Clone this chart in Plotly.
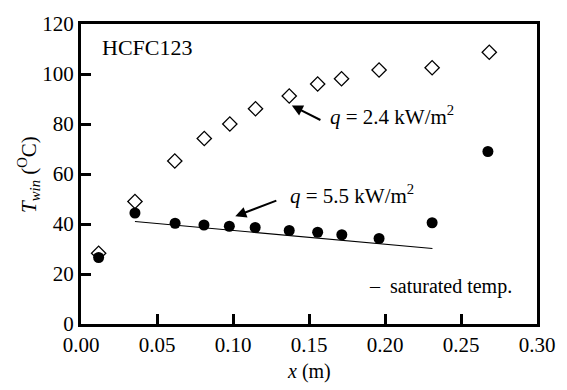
import plotly.graph_objects as go

# Data
x_pos = [0.0116, 0.0355, 0.0617, 0.0811, 0.0979, 0.1148, 0.1370, 0.1557, 0.1714, 0.1961, 0.2310, 0.2686]
t_q24 = [28.3, 49.0, 65.2, 74.2, 80.0, 86.1, 91.2, 96.0, 98.1, 101.6, 102.5, 108.7]
x_pos55 = [0.0116, 0.0355, 0.0619, 0.0809, 0.0976, 0.1146, 0.1370, 0.1557, 0.1716, 0.1961, 0.2310, 0.2677]
t_q55 = [26.6, 44.4, 40.3, 39.6, 39.1, 38.6, 37.4, 36.7, 35.7, 34.2, 40.5, 69.0]
sat_x = [0.0355, 0.2312]
sat_y = [41.0, 30.2]

FONT = "Tinos, Liberation Serif, serif"

fig = go.Figure()
fig.add_trace(go.Scatter(x=sat_x, y=sat_y, mode="lines",
                         line=dict(color="black", width=1.2), showlegend=False))
fig.add_trace(go.Scatter(x=x_pos, y=t_q24, mode="markers",
                         marker=dict(symbol="diamond-open", size=11, color="black",
                                     line=dict(width=1.3, color="black")),
                         showlegend=False))
fig.add_trace(go.Scatter(x=x_pos55, y=t_q55, mode="markers",
                         marker=dict(symbol="circle", size=11, color="black"),
                         showlegend=False))

annotations = [
    dict(x=0.0123, y=110.7, xref="x", yref="y", text="HCFC123", showarrow=False,
         xanchor="left", yanchor="middle", font=dict(family=FONT, size=22, color="black")),
    dict(x=0.1626, y=83.6, xref="x", yref="y", text="<i>q</i> = 2.4 kW/m<sup>2</sup>",
         showarrow=False, xanchor="left", yanchor="middle", font=dict(family=FONT, size=21, color="black")),
    dict(x=0.136, y=51.9, xref="x", yref="y", text="<i>q</i> = 5.5 kW/m<sup>2</sup>",
         showarrow=False, xanchor="left", yanchor="middle", font=dict(family=FONT, size=21, color="black")),
    dict(x=0.188, y=15.0, xref="x", yref="y", text="&#8211;  saturated temp.",
         showarrow=False, xanchor="left", yanchor="middle", font=dict(family=FONT, size=20, color="black")),
    # arrows
    dict(x=0.1387, y=87.4, ax=0.1585, ay=81.3, xref="x", yref="y", axref="x", ayref="y",
         text="", showarrow=True, arrowhead=2, arrowsize=1.1, arrowwidth=2, arrowcolor="black"),
    dict(x=0.1015, y=43.1, ax=0.1295, ay=49.6, xref="x", yref="y", axref="x", ayref="y",
         text="", showarrow=True, arrowhead=2, arrowsize=1.1, arrowwidth=2, arrowcolor="black"),
    # axis titles
    dict(x=-0.114, y=0.497, xref="paper", yref="paper", textangle=-90,
         text="<i>T</i><sub><i>win</i></sub> (<sup>O</sup>C)", showarrow=False,
         xanchor="center", yanchor="middle", font=dict(family=FONT, size=21, color="black")),
    dict(x=0.5, y=-0.158, xref="paper", yref="paper", text="<i>x</i> (m)", showarrow=False,
         xanchor="center", yanchor="middle", font=dict(family=FONT, size=20, color="black")),
]

axis_common = dict(showline=True, linewidth=3, linecolor="black", mirror=True,
                   ticks="inside", ticklen=10, tickwidth=3, tickcolor="black",
                   showgrid=False, zeroline=False,
                   tickfont=dict(family=FONT, size=21, color="black"))

fig.update_layout(
    width=567, height=390,
    margin=dict(l=81, r=21, t=14, b=66),
    paper_bgcolor="white", plot_bgcolor="white",
    font=dict(family=FONT, color="black"),
    xaxis=dict(range=[0, 0.3], dtick=0.05, tick0=0, tickformat=".2f", **axis_common),
    yaxis=dict(range=[0, 120], dtick=20, tick0=0, **axis_common),
    annotations=annotations,
)

# Re-apply the serif family to every SVG text once the plot is drawn
post = """
var gd = document.getElementById('{plot_id}');
function fixFonts() {
  gd.querySelectorAll('text').forEach(function (t) {
    t.style.fontFamily = "Tinos, 'Liberation Serif', serif";
  });
}
fixFonts();
if (document.fonts && document.fonts.ready) { document.fonts.ready.then(fixFonts); }
gd.on('plotly_afterplot', fixFonts);
"""

fig.write_html("out.html", post_script=post)
